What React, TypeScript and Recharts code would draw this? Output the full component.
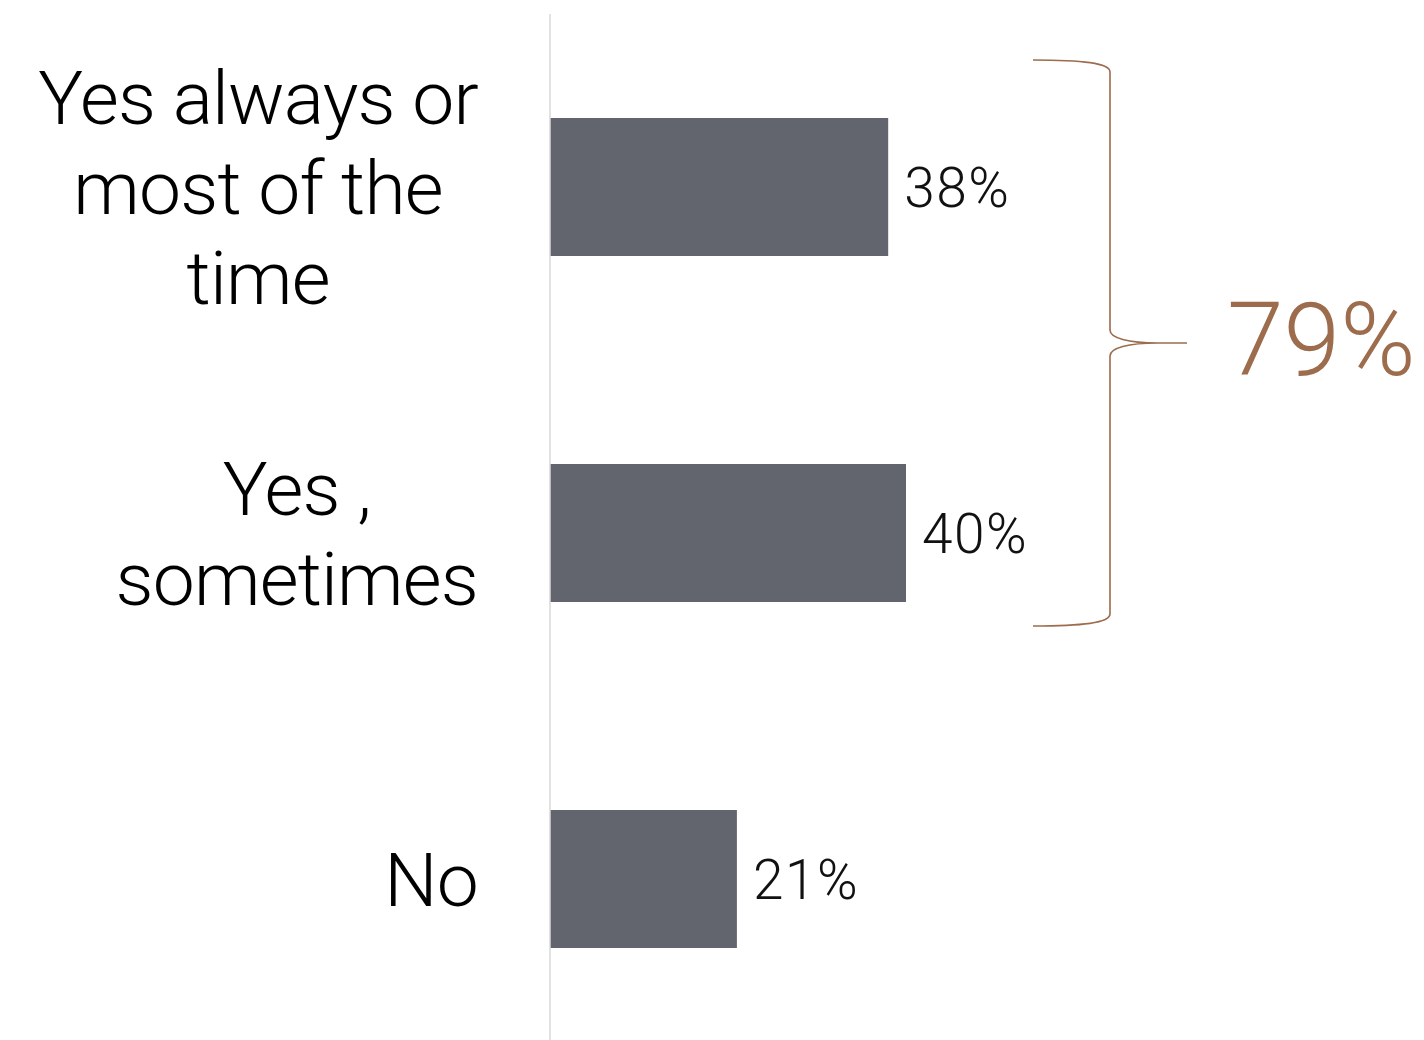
import React from "react";
import { BarChart, Bar, XAxis, YAxis, LabelList, Customized } from "recharts";

const categories = ["Yes always or\nmost of the\ntime", "Yes ,\nsometimes", "No"];
const shares = [38, 40, 21];
const groupTotal = "79%";

const data = categories.map((name, i) => ({ name, value: shares[i] }));

const FONT = "Roboto, 'Helvetica Neue', Arial, sans-serif";
const BAR = "#62656d";
const BROWN = "#9c6c4c";
const CAT_SIZE = 75;
const CAT_SPACING = -0.8;

let ctx: CanvasRenderingContext2D | null = null;
function measure(text: string, size: number) {
  if (!ctx) ctx = document.createElement("canvas").getContext("2d");
  if (!ctx) return text.length * size * 0.5;
  ctx.font = `300 ${size}px Roboto`;
  return ctx.measureText(text).width + CAT_SPACING * text.length;
}

// category label: lines centred inside a block that is right aligned to the axis
function CategoryTick(props: any) {
  const { x, y, payload } = props;
  const lineHeight = 90;
  const lines = String(payload.value).split("\n");
  const blockW = Math.max(...lines.map((l) => measure(l, CAT_SIZE)));
  const cx = x - blockW / 2;
  return (
    <g>
      {lines.map((line, i) => (
        <text
          key={i}
          x={cx}
          y={y + (i - (lines.length - 1) / 2) * lineHeight}
          dy="0.36em"
          textAnchor="middle"
          fontSize={CAT_SIZE}
          fontWeight={300}
          fontFamily={FONT}
          letterSpacing={CAT_SPACING}
          fill="#000"
        >
          {line}
        </text>
      ))}
    </g>
  );
}

// curly brace grouping the two "yes" answers
function GroupBrace() {
  const d =
    "M1033,60 C1082,60 1110,63 1110,72 L1110,330 C1110,338 1128,343 1158,343 L1187,343 " +
    "M1158,343 C1128,343 1110,348 1110,356 L1110,614 C1110,623 1082,626 1033,626";
  return (
    <g>
      <path d={d} fill="none" stroke={BROWN} strokeWidth={1.6} />
      <text
        x={1227}
        y={338}
        dy="0.36em"
        fontSize={102}
        fontWeight={300}
        fontFamily={FONT}
        fill={BROWN}
      >
        {groupTotal}
      </text>
    </g>
  );
}

export default function App() {
  return (
    <div style={{ width: 1424, height: 1040, overflow: "hidden" }}>
      <style>{`body{margin:0;overflow:hidden}`}</style>
      <BarChart
        width={1424}
        height={1052}
        data={data}
        layout="vertical"
        margin={{ top: 14, right: 73, bottom: 0, left: 0 }}
      >
        <XAxis type="number" domain={[0, 90]} hide />
        <YAxis
          type="category"
          dataKey="name"
          width={550}
          tickLine={false}
          tickMargin={66}
          axisLine={{ stroke: "#d9d9d9", strokeWidth: 1.5 }}
          tick={<CategoryTick />}
          interval={0}
        />
        <Bar dataKey="value" fill={BAR} barSize={138} isAnimationActive={false}>
          <LabelList
            dataKey="value"
            position="right"
            offset={16}
            formatter={(v: any) => `${v}%`}
            fill="#111"
            fontSize={55}
            fontWeight={300}
            fontFamily={FONT}
            letterSpacing={1.5}
          />
        </Bar>
        <Customized component={<GroupBrace />} />
      </BarChart>
    </div>
  );
}
